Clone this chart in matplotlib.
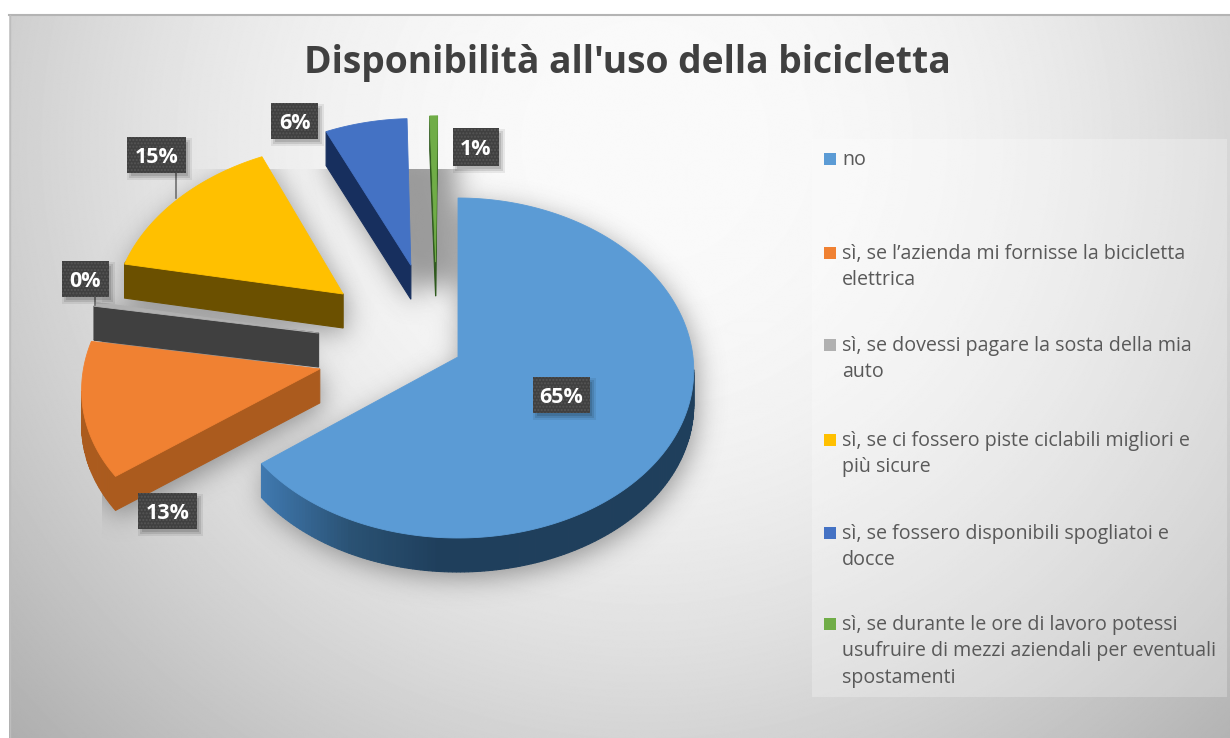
import numpy as np
import matplotlib
matplotlib.use('Agg')
import matplotlib.pyplot as plt
from matplotlib.path import Path
from matplotlib.patches import Rectangle
from matplotlib.colors import LinearSegmentedColormap

title = "Disponibilità all'uso della bicicletta"
categories = [
    "no",
    "sì, se l’azienda mi fornisse la bicicletta\nelettrica",
    "sì, se dovessi pagare la sosta della mia\nauto",
    "sì, se ci fossero piste ciclabili migliori e\npiù sicure",
    "sì, se fossero disponibili spogliatoi e\ndocce",
    "sì, se durante le ore di lavoro potessi\nusufruire di mezzi aziendali per eventuali\nspostamenti",
]
values = [64.7, 12.9, 0.4, 15.0, 6.4, 0.6]

top_colors = ['#5b9bd5', '#f08132', '#b0b0b0', '#ffc000', '#4472c4', '#70ad47']
side_colors = ['#1f3f5c', '#ab5b1e', '#404040', '#6b5000', '#172f5e', '#2f5a1e']
# slice displacement on the pie disc (unit radius)
shift_u = [0.0, -0.585, -0.60, -0.504, -0.21, -0.10]
shift_v = [0.0, -0.07, 0.142, 0.38, 0.56, 0.58]
draw_order = [2, 5, 4, 3, 1, 0]

# value label boxes: left, top, right, bottom in pixels
label_boxes = [(533, 377, 590, 413), (138, 493, 197, 529), (62, 261, 109, 297),
               (127, 137, 186, 173), (271, 103, 318, 139), (453, 128, 499, 166)]
legend_y = [159, 253, 345, 440, 533, 624]

W, H = 1230, 738
CX, CY = 458, 357
RX, RY = 235, 170
DEPTH = 34


def project(u, v):
    # tilted disc: the far half looks smaller than the near half
    x = CX + RX * u * (1 - 0.08 * v)
    y = CY - RY * v + 11 * v ** 2
    return x, y


def slice_outline(i):
    edges = np.cumsum([0] + values) / sum(values) * 2 * np.pi
    t = np.linspace(edges[i], edges[i + 1], max(4, int(values[i] * 4)))
    u = np.concatenate([[0], np.sin(t)]) + shift_u[i]
    v = np.concatenate([[0], np.cos(t)]) + shift_v[i]
    return np.column_stack(project(u, v))


fig = plt.figure(figsize=(W / 100, H / 100), dpi=100, facecolor='white')
ax = fig.add_axes([0, 0, 1, 1])

# background
yy, xx = np.mgrid[0:H, 0:W]
d = np.sqrt(((xx - 640) / 650) ** 2 + ((yy - 130) / 650) ** 2) ** 2.5
bg = 0.98 - 0.17 * d / (1 + 0.25 * d) * 1.25
bg_cmap = LinearSegmentedColormap.from_list('bg', ['black', 'white'])
ax.imshow(bg, cmap=bg_cmap, vmin=0, vmax=1, extent=(9, W, H, 15), aspect='auto', zorder=0)
ax.plot([9, W], [14.5, 14.5], color='#b4b4b4', lw=1.5, zorder=1)
ax.plot([9.5, 9.5], [15, H], color='#bdbdbd', lw=1, zorder=1)

# legend panel
ax.add_patch(Rectangle((812, 139), 415, 558, facecolor='white', alpha=0.25, lw=0, zorder=1))

# soft shadow
pts = np.column_stack([xx.ravel() + 0.5, yy.ravel() + 0.5])
mask = np.zeros((H, W), bool)
for i in range(len(values)):
    m = Path(slice_outline(i)).contains_points(pts).reshape(H, W)
    for k in range(DEPTH):
        mask |= np.roll(m, k, axis=0)
mask = np.roll(np.roll(mask, 7, axis=0), 3, axis=1)
# the grey block behind the blue and green slices
mask[150:285, 411:457] = True
ky = np.fft.fftfreq(H)[:, None]
kx = np.fft.rfftfreq(W)[None, :]
sigma = 13
blur = np.fft.irfft2(np.fft.rfft2(mask.astype(float)) *
                     np.exp(-2 * (np.pi * sigma) ** 2 * (kx ** 2 + ky ** 2)), s=(H, W))
blur = np.clip(blur, 0, 1)
blur[:169, :] = 0
blur[:, :102] = 0
shadow = np.zeros((H, W, 4))
shadow[..., :3] = 0.25
shadow[..., 3] = blur * 0.5
ax.imshow(shadow, extent=(0, W, H, 0), aspect='auto', zorder=2)
ax.set_xlim(0, W)
ax.set_ylim(H, 0)
ax.axis('off')

# slices, back to front
main_side = LinearSegmentedColormap.from_list('main_side', ['#1f3f5c', '#2a5274', '#4079b0'])
z = 3
for i in draw_order:
    top = slice_outline(i)
    outline = Path(top)
    closed = np.vstack([top, top[:1]])
    segs = list(zip(closed[:-1], closed[1:]))
    segs.sort(key=lambda s: s[0][1] + s[1][1])
    for a, b in segs:
        # side faces that fall under the top surface are not visible
        if outline.contains_point(((a[0] + b[0]) / 2, (a[1] + b[1]) / 2 + 1.5)):
            continue
        color = side_colors[i]
        if i == 0:
            color = main_side(np.clip((440 - (a[0] + b[0]) / 2) / 178, 0, 1))
        ax.fill([a[0], b[0], b[0], a[0]], [a[1], b[1], b[1] + DEPTH, a[1] + DEPTH],
                facecolor=color, edgecolor=color, lw=0.8, zorder=z)
    z += 1
    ax.fill(top[:, 0], top[:, 1], facecolor=top_colors[i], edgecolor=top_colors[i], lw=0.6, zorder=z)
    z += 1

# leader lines
ax.plot([176, 176], [173, 198], color='#6f6f6f', lw=1.2, zorder=z)
ax.plot([95, 95], [297, 305], color='#6f6f6f', lw=1.2, zorder=z)

# value labels
for box, v in zip(label_boxes, values):
    x0, y0, x1, y1 = box
    for grow, alpha in [(3, 0.07), (1, 0.1), (-1, 0.12)]:
        ax.add_patch(Rectangle((x0 + 3 - grow, y0 + 4 - grow), x1 - x0 + 2 * grow, y1 - y0 + 2 * grow,
                               facecolor='black', alpha=alpha, lw=0, zorder=z))
    ax.add_patch(Rectangle((x0, y0), x1 - x0, y1 - y0, facecolor='#404040', edgecolor='#555555',
                           hatch='.....', lw=0, zorder=z + 1))
    ax.text((x0 + x1) / 2, (y0 + y1) / 2, f"{v:.0f}%", color='white', fontsize=15.5,
            fontweight='bold', family='Open Sans', ha='center', va='center_baseline', zorder=z + 2)

# title
ax.text(627, 63, title, color='#404040', fontsize=26.8, fontweight='bold', family='Open Sans',
        ha='center', va='center', zorder=z)

# legend
for y, label, color in zip(legend_y, categories, top_colors):
    ax.add_patch(Rectangle((824, y - 6), 12, 12, facecolor=color, lw=0, zorder=z))
    ax.text(842, y - 9, label, color='#595959', fontsize=14.1, family='Open Sans',
            ha='left', va='top', linespacing=1.42, zorder=z)

fig.savefig('out.png', dpi=100)
